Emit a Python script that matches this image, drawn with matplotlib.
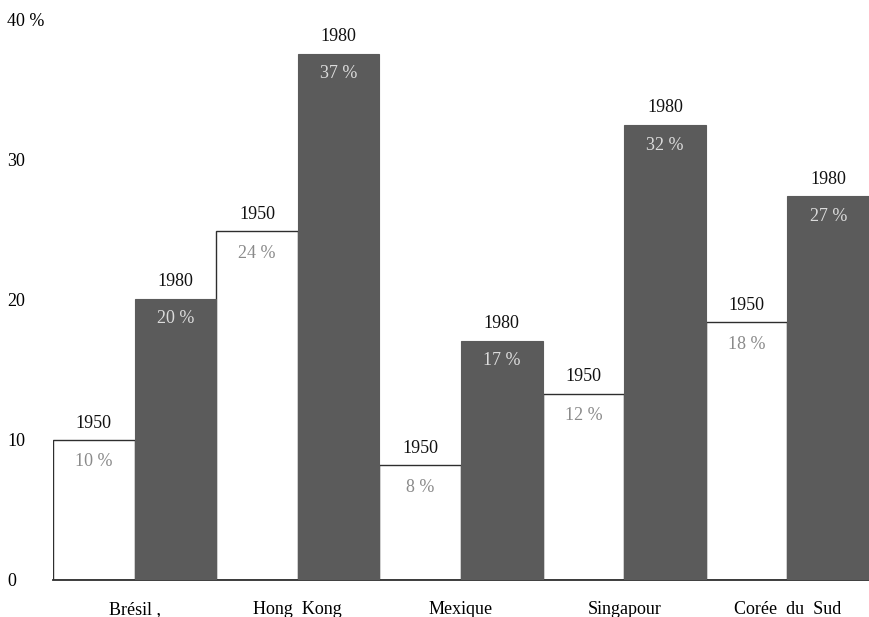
import matplotlib
matplotlib.use("Agg")
import matplotlib.pyplot as plt
import numpy as np

# ── data ─────────────────────────────────────────────────────────────────────
countries = ["Brésil ,", "Hong  Kong", "Mexique", "Singapour", "Corée  du  Sud"]
# bar heights as drawn in the picture
h1950 = [10.0, 24.9, 8.2, 13.3, 18.4]
h1980 = [20.1, 37.6, 17.1, 32.5, 27.4]
# printed labels
lab1950 = ["10 %", "24 %", "8 %", "12 %", "18 %"]
lab1980 = ["20 %", "37 %", "17 %", "32 %", "27 %"]
yticks = [0, 10, 20, 30, 40]
ytick_labels = ["0", "10", "20", "30", "40 %"]

# ── style ────────────────────────────────────────────────────────────────────
FONT = "Liberation Serif"
FS = 13
C_DARK = "#5b5b5b"
C_EDGE = "#2e2e2e"
plt.rcParams["font.family"] = FONT

fig = plt.figure(figsize=(8.69, 6.17), dpi=100)
fig.patch.set_facecolor("white")
ax = fig.add_axes([53 / 869, 37 / 617, 816 / 869, 560 / 617])

x = np.arange(len(countries)) * 2
ax.bar(x + 0.5, h1950, width=1.0, facecolor="white", edgecolor=C_EDGE,
       linewidth=1.0, zorder=2)
ax.bar(x + 1.5, h1980, width=1.0, facecolor=C_DARK, edgecolor=C_DARK,
       linewidth=0.8, zorder=3)

for xi, h, lab in zip(x + 0.5, h1950, lab1950):
    ax.annotate("1950", (xi, h), xytext=(0, 17), textcoords="offset pixels",
                ha="center", va="center", fontsize=FS, color="#111111",
                zorder=5)
    ax.annotate(lab, (xi, h), xytext=(0, -22), textcoords="offset pixels",
                ha="center", va="center", fontsize=FS, color="#8a8a8a",
                zorder=5)
for xi, h, lab in zip(x + 1.5, h1980, lab1980):
    ax.annotate("1980", (xi, h), xytext=(0, 17), textcoords="offset pixels",
                ha="center", va="center", fontsize=FS, color="#111111",
                zorder=5)
    ax.annotate(lab, (xi, h), xytext=(0, -20), textcoords="offset pixels",
                ha="center", va="center", fontsize=FS, color="#dcdcdc",
                zorder=5)

ax.set_xlim(0, 10)
ax.set_ylim(0, 40)
ax.set_xticks(x + 1.0)
ax.set_xticklabels(countries, fontsize=FS)
ax.set_yticks(yticks)
ax.set_yticklabels(ytick_labels, fontsize=FS)
ax.tick_params(axis="both", length=0)
ax.tick_params(axis="x", pad=15)
ax.tick_params(axis="y", pad=33)
for t in ax.get_yticklabels():
    t.set_horizontalalignment("left")
    t.set_y(t.get_position()[1])

for s in ["top", "right", "left"]:
    ax.spines[s].set_visible(False)
ax.spines["bottom"].set_color(C_EDGE)
ax.spines["bottom"].set_linewidth(1.3)

fig.savefig("out.png", dpi=100, facecolor="white")
